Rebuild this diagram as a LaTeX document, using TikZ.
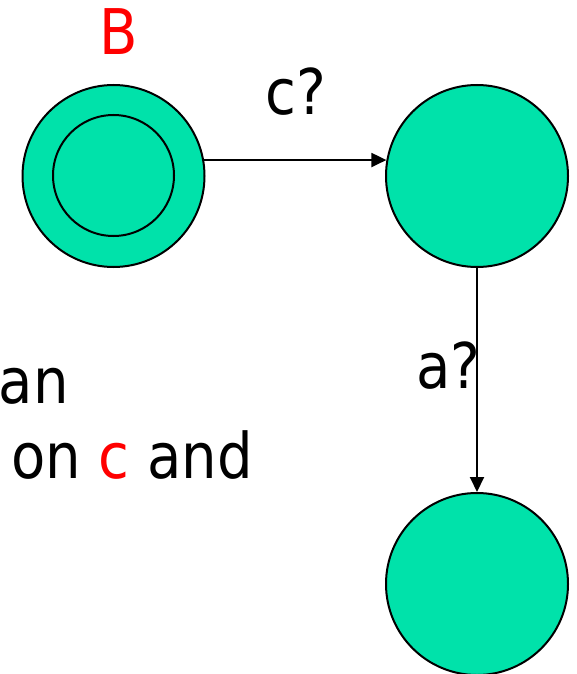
\documentclass[tikz,border=0pt]{standalone}
\usepackage{fontspec}
\setmainfont{DejaVu Sans}[FakeStretch=0.89]
\usetikzlibrary{arrows.meta}
\definecolor{stategreen}{RGB}{0,226,170}
\definecolor{labelred}{RGB}{255,0,0}
\tikzset{
  statenode/.style={circle, draw=black, line width=2pt, fill=stategreen, inner sep=0pt, minimum size=182pt},
  innerring/.style={circle, draw=black, line width=2pt, inner sep=0pt, minimum size=121pt},
  edge/.style={line width=2pt, -{Triangle[length=15pt,width=14pt]}},
  txt/.style={inner sep=0pt, font=\fontsize{63}{75}\selectfont}
}
\begin{document}
\begin{tikzpicture}[x=1pt,y=-1pt]
\useasboundingbox (0,0) rectangle (577,674);
\node[statenode] (q0) at (113.5,176) {};
\node[innerring] (q0in) at (113.5,175.5) {};
\node[statenode] (q1) at (477,176) {};
\node[statenode] (q2) at (477,584) {};
\draw[edge] (q0.10) -- (q1.170);
\draw[edge] (q1.south) -- (q2.north);
\node[txt, anchor=base, text=labelred] (lB) at (119,55) {B};
\node[txt, anchor=base] (lc) at (295.5,115) {c?};
\node[txt, anchor=base] (la) at (448.5,388) {a?};
\node[txt, anchor=base east] (t1) at (69,403) {an};
\node[txt, anchor=base west] (t2) at (11,478) {on \textcolor{labelred}{c} and};
\end{tikzpicture}
\end{document}
